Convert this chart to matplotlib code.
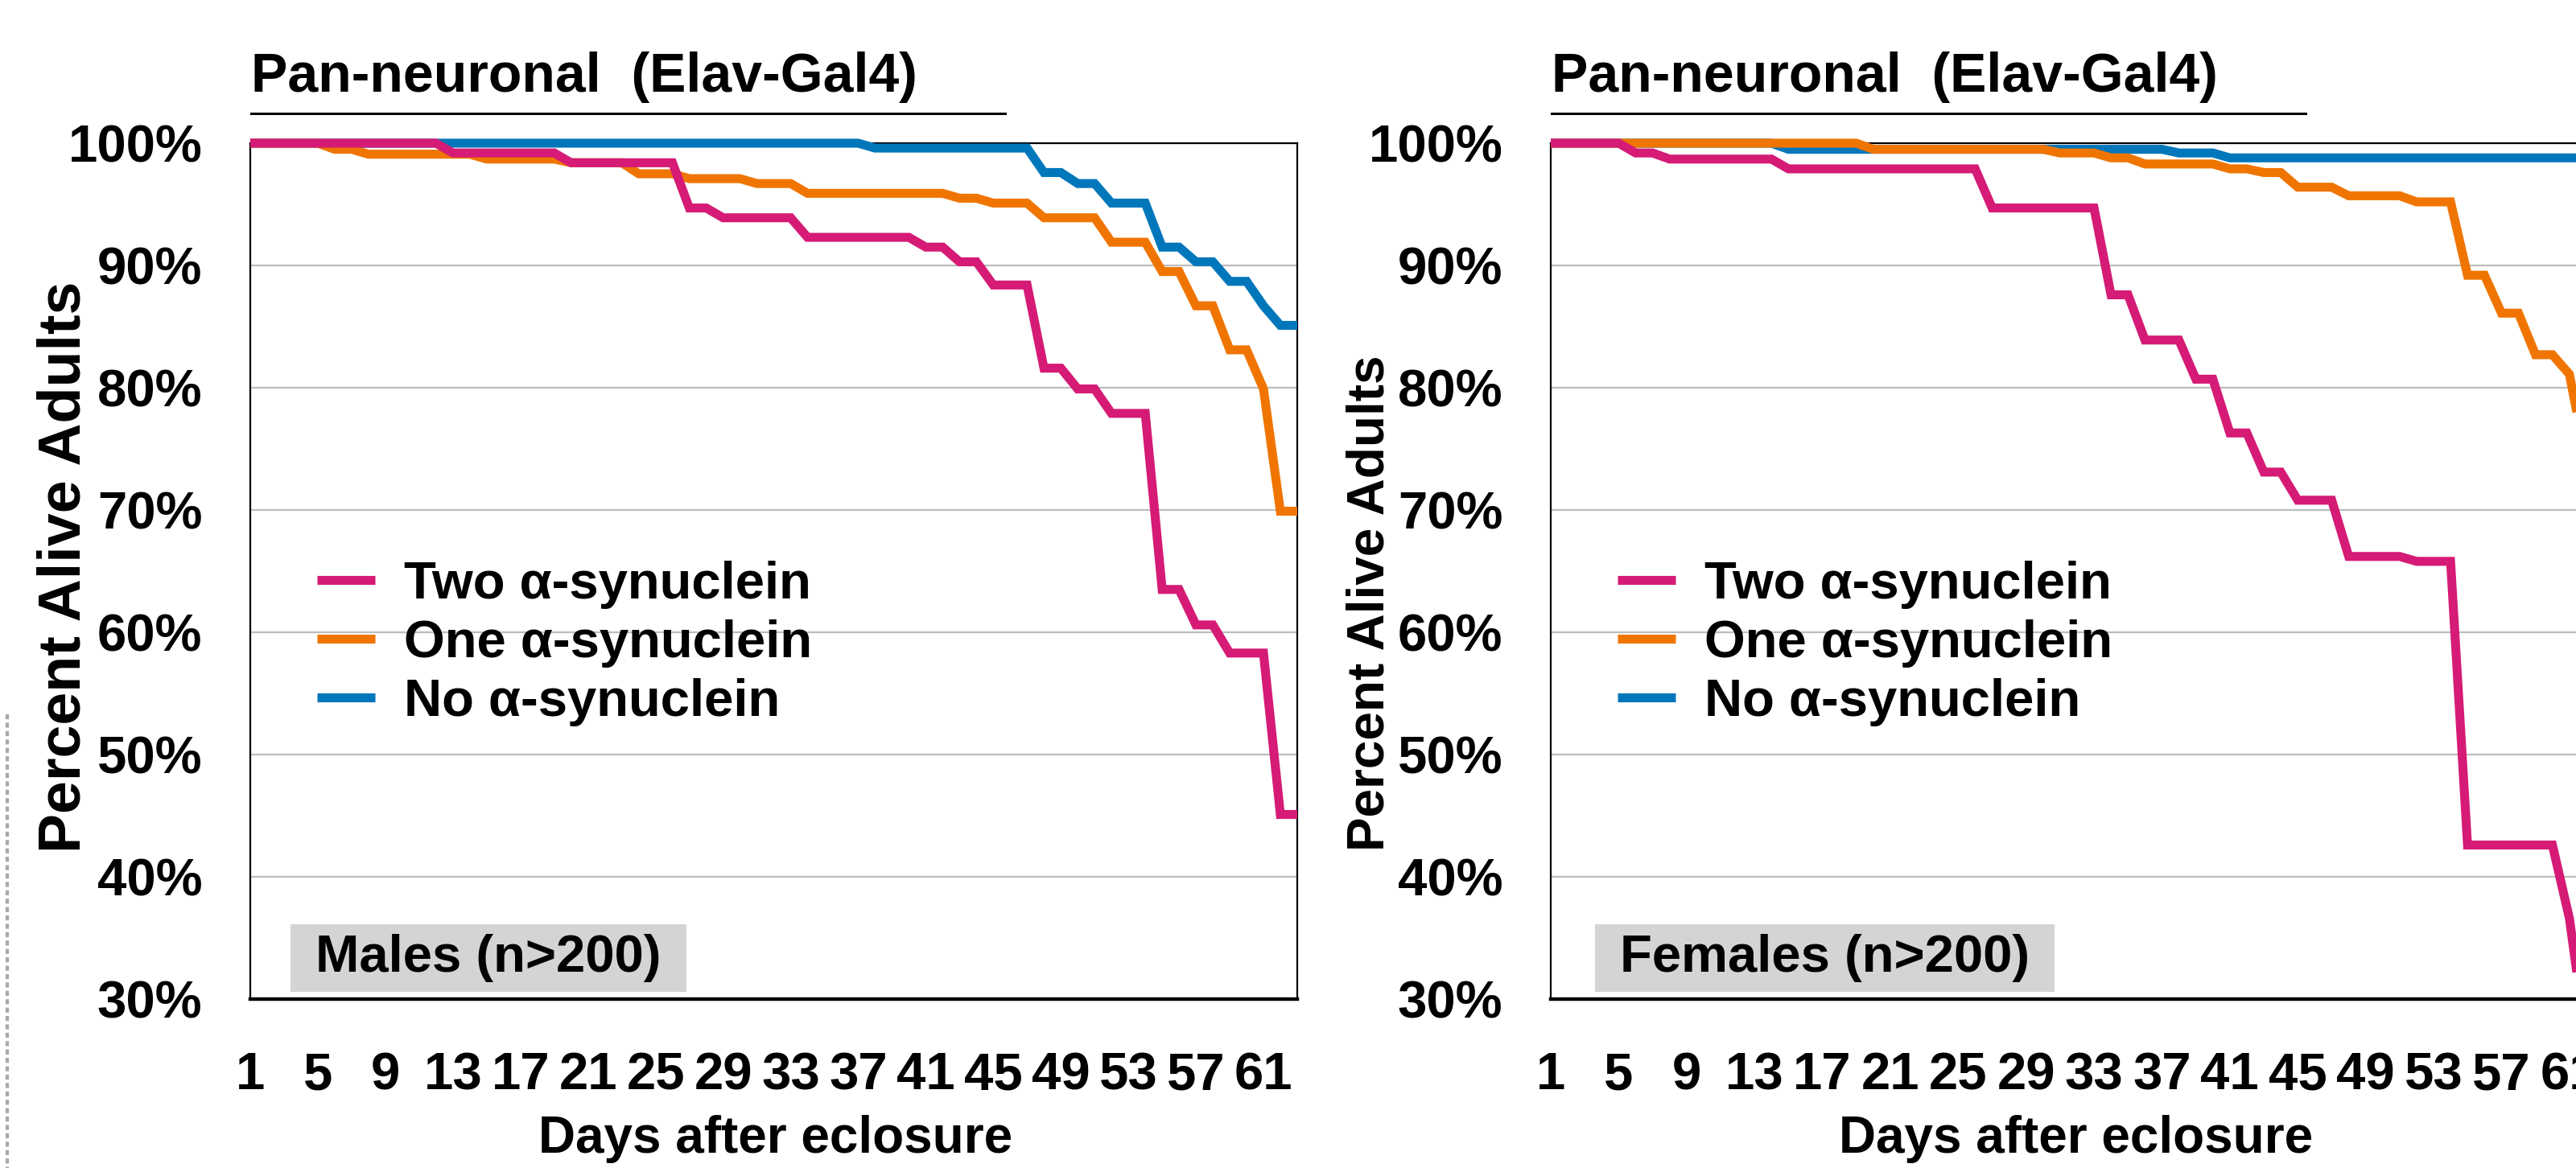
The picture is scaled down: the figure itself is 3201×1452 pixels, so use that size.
import matplotlib
matplotlib.use('Agg')
import matplotlib.pyplot as plt
from matplotlib.lines import Line2D
from matplotlib.patches import Rectangle
from matplotlib.transforms import Bbox, TransformedBbox

plt.rcParams['font.family'] = ['Liberation Sans', 'DejaVu Sans']
plt.rcParams['font.weight'] = 'bold'

W, H = 3201, 1452

# ---------------- data (percent alive, one value per day) ----------------
days = list(range(1, 64))
tick_days = list(range(1, 62, 4))
y_ticks = [30, 40, 50, 60, 70, 80, 90, 100]
series_names = ['Two \u03b1-synuclein', 'One \u03b1-synuclein', 'No \u03b1-synuclein']
colors = ['#D51B76', '#F07500', '#0077BB']

male_two = [
    100, 100, 100, 100, 100, 100, 100, 100, 100, 100,
    100, 100, 99.2, 99.2, 99.2, 99.2, 99.2, 99.2, 99.2, 98.4,
    98.4, 98.4, 98.4, 98.4, 98.4, 98.4, 94.7, 94.7, 93.9, 93.9,
    93.9, 93.9, 93.9, 92.3, 92.3, 92.3, 92.3, 92.3, 92.3, 92.3,
    91.5, 91.5, 90.3, 90.3, 88.4, 88.4, 88.4, 81.6, 81.6, 79.9,
    79.9, 77.9, 77.9, 77.9, 63.5, 63.5, 60.6, 60.6, 58.3, 58.3,
    58.3, 45.1, 45.1]
male_one = [
    100, 100, 100, 100, 100, 99.5, 99.5, 99.1, 99.1, 99.1,
    99.1, 99.1, 99.1, 99.1, 98.7, 98.7, 98.7, 98.7, 98.7, 98.4,
    98.4, 98.4, 98.4, 97.5, 97.5, 97.5, 97.1, 97.1, 97.1, 97.1,
    96.7, 96.7, 96.7, 95.9, 95.9, 95.9, 95.9, 95.9, 95.9, 95.9,
    95.9, 95.9, 95.5, 95.5, 95.1, 95.1, 95.1, 93.9, 93.9, 93.9,
    93.9, 91.9, 91.9, 91.9, 89.5, 89.5, 86.7, 86.7, 83.1, 83.1,
    79.9, 69.9, 69.9]
male_no = [
    100, 100, 100, 100, 100, 100, 100, 100, 100, 100,
    100, 100, 100, 100, 100, 100, 100, 100, 100, 100,
    100, 100, 100, 100, 100, 100, 100, 100, 100, 100,
    100, 100, 100, 100, 100, 100, 100, 99.6, 99.6, 99.6,
    99.6, 99.6, 99.6, 99.6, 99.6, 99.6, 99.6, 97.6, 97.6, 96.7,
    96.7, 95.1, 95.1, 95.1, 91.5, 91.5, 90.3, 90.3, 88.7, 88.7,
    86.7, 85.1, 85.1]

female_two = [
    100, 100, 100, 100, 100, 99.2, 99.2, 98.7, 98.7, 98.7,
    98.7, 98.7, 98.7, 98.7, 97.9, 97.9, 97.9, 97.9, 97.9, 97.9,
    97.9, 97.9, 97.9, 97.9, 97.9, 97.9, 94.7, 94.7, 94.7, 94.7,
    94.7, 94.7, 94.7, 87.6, 87.6, 83.9, 83.9, 83.9, 80.7, 80.7,
    76.3, 76.3, 73.1, 73.1, 70.8, 70.8, 70.8, 66.2, 66.2, 66.2,
    66.2, 65.8, 65.8, 65.8, 42.6, 42.6, 42.6, 42.6, 42.6, 42.6,
    36.6, 26.5, 26.5]
female_one = [
    100, 100, 100, 100, 100, 100, 100, 100, 100, 100,
    100, 100, 100, 100, 100, 100, 100, 100, 100, 99.5,
    99.5, 99.5, 99.5, 99.5, 99.5, 99.5, 99.5, 99.5, 99.5, 99.5,
    99.2, 99.2, 99.2, 98.8, 98.8, 98.3, 98.3, 98.3, 98.3, 98.3,
    97.9, 97.9, 97.6, 97.6, 96.4, 96.4, 96.4, 95.7, 95.7, 95.7,
    95.7, 95.2, 95.2, 95.2, 89.2, 89.2, 86.1, 86.1, 82.7, 82.7,
    81.1, 74.0, 74.0]
female_no = [
    100, 100, 100, 100, 100, 100, 100, 100, 100, 100,
    100, 100, 100, 100, 99.5, 99.5, 99.5, 99.5, 99.5, 99.5,
    99.5, 99.5, 99.5, 99.5, 99.5, 99.5, 99.5, 99.5, 99.5, 99.5,
    99.5, 99.5, 99.5, 99.5, 99.5, 99.5, 99.5, 99.2, 99.2, 99.2,
    98.8, 98.8, 98.8, 98.8, 98.8, 98.8, 98.8, 98.8, 98.8, 98.8,
    98.8, 98.8, 98.8, 98.8, 98.8, 98.8, 98.8, 98.8, 98.8, 98.8,
    98.8, 98.8, 98.8]

panels = [
    # axes left px, axes width px, series, sex label, box x range,
    # ylabel (x, y, size), xlabel centre x
    (311, 1301, [male_two, male_one, male_no], 'Males (n>200)', (361, 853),
     (80, 705, 53), 964),
    (1927, 1308, [female_two, female_one, female_no], 'Females (n>200)', (1982, 2553),
     (1702, 750, 46), 2580),
]

FS = 47
top_px, bot_px = 178, 1242

fig = plt.figure(figsize=(W / 100, H / 100), dpi=100)


def fx(x):
    return x / W


def fy(y):
    return 1 - y / H


for left, width, series, sex, (bx0, bx1), ylab, xlab_x in panels:
    ax = fig.add_axes([fx(left), fy(bot_px), width / W, (bot_px - top_px) / H])
    # clip at the bottom of the plot, but let the 100% lines sit fully on the top edge
    clip = TransformedBbox(Bbox([[-0.02, 0], [1.02, 1.03]]), ax.transAxes)

    # draw No first, then One, then Two on top
    for vals, col in reversed(list(zip(series, colors))):
        ln, = ax.plot(days, vals, color=col, lw=8, solid_joinstyle='miter',
                      solid_capstyle='butt', zorder=3)
        ln.set_clip_box(clip)

    ax.set_xlim(1, 63)
    ax.set_ylim(30, 100)
    ax.set_xticks(tick_days)
    ax.set_xticklabels([str(d) for d in tick_days], fontsize=FS, fontweight='bold')
    ax.set_yticks(y_ticks)
    ax.set_yticklabels([f'{v}%' for v in y_ticks], fontsize=FS, fontweight='bold')
    ax.tick_params(axis='y', length=0, pad=43)
    ax.tick_params(axis='x', length=0, pad=47)
    ax.yaxis.grid(True, color='#bdbdbd', lw=1.6)
    ax.set_axisbelow(True)
    for side in ['top', 'left', 'right']:
        ax.spines[side].set_linewidth(1.6)
        ax.spines[side].set_color('black')
    ax.spines['bottom'].set_linewidth(3.2)

    handles = [Line2D([], [], color=c, lw=8, solid_capstyle='butt') for c in colors]
    ax.legend(handles, series_names, loc='center left',
              bbox_to_anchor=(fx(left + 83), fy(800)), bbox_transform=fig.transFigure,
              frameon=False, prop={'size': FS, 'weight': 'bold'},
              handlelength=1.1, handletextpad=0.55, labelspacing=0.2,
              borderpad=0, borderaxespad=0)

    # grey sex label box
    fig.add_artist(Rectangle((fx(bx0), fy(1233)), (bx1 - bx0) / W, (1233 - 1149) / H,
                             transform=fig.transFigure, facecolor='#d4d4d4',
                             edgecolor='none', zorder=4))
    fig.text(fx((bx0 + bx1) / 2), fy(1191), sex, ha='center', va='center',
             fontsize=FS, fontweight='bold', zorder=5)

    # title with underline
    fig.text(fx(left + 1), fy(96), 'Pan-neuronal  (Elav-Gal4)', ha='left', va='center',
             fontsize=49, fontweight='bold')
    fig.add_artist(Line2D([fx(left + 1), fx(left + 938)], [fy(141), fy(141)],
                          color='black', lw=2.2))

    fig.text(fx(ylab[0]), fy(ylab[1]), 'Percent Alive Adults', rotation=90,
             ha='center', va='center', fontsize=ylab[2], fontweight='bold')
    fig.text(fx(xlab_x), fy(1416), 'Days after eclosure', ha='center', va='center',
             fontsize=46, fontweight='bold')

# faint dashed frame edge on the far left
fig.add_artist(Line2D([fx(9), fx(9)], [fy(888), 0], color='#a8a8a8', lw=3,
                      linestyle=(0, (1.5, 1))))

fig.savefig('out.png', dpi=100)
